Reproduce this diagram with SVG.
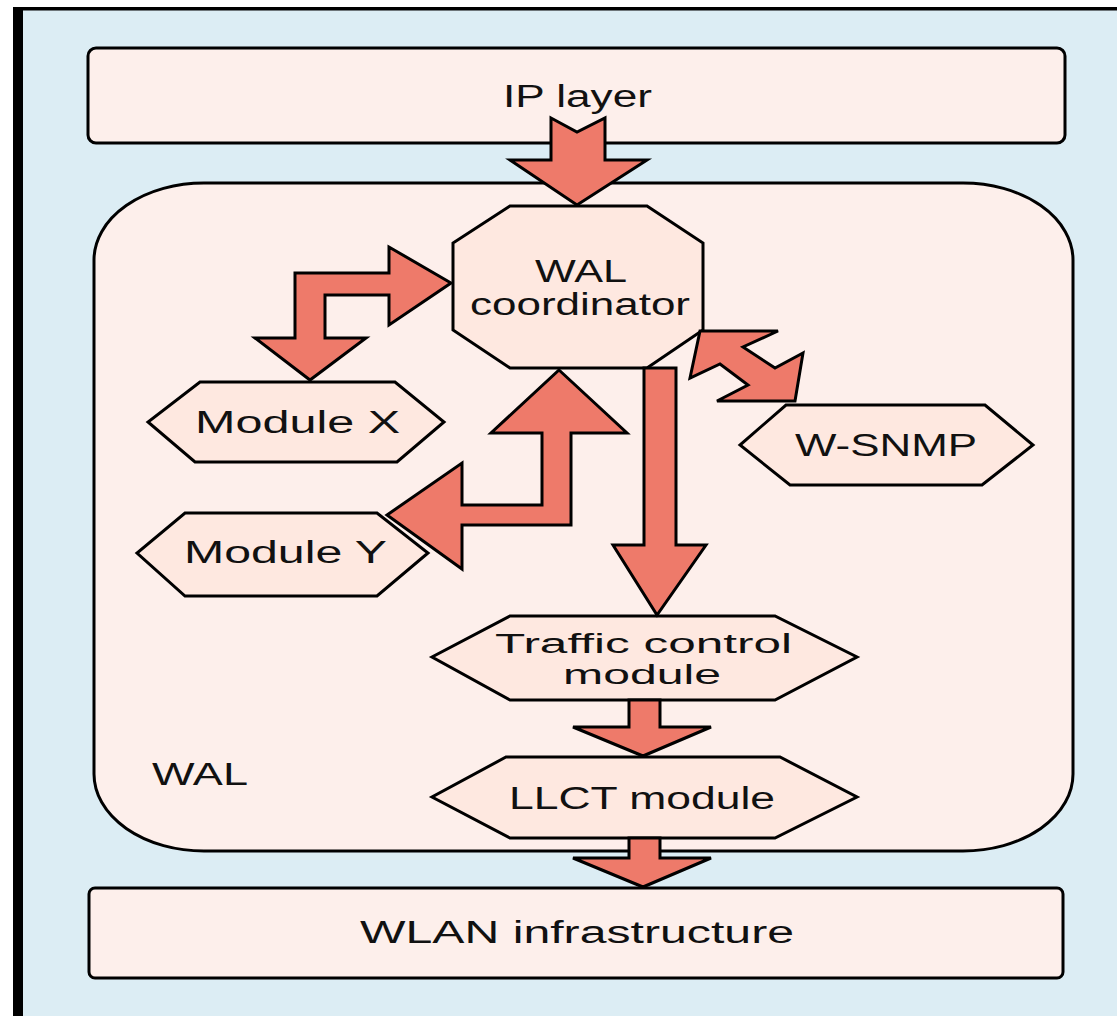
<svg xmlns="http://www.w3.org/2000/svg" width="1117" height="1016" viewBox="0 0 1117 1016">
  <style>
    .box { fill: #FDEFEB; stroke: #000; stroke-width: 3; }
    .mod { fill: #FEE8E0; stroke: #000; stroke-width: 3; stroke-linejoin: miter; }
    .arr { fill: #EE7A6A; stroke: #000; stroke-width: 3; stroke-linejoin: miter; }
    .t { font-family: "Liberation Sans", Arial, sans-serif; font-size: 31px; fill: #111; }
    .s { font-size: 27px; }
  </style>
  <rect x="0" y="0" width="1117" height="1016" fill="#FFFFFF"/>
  <rect x="13" y="7" width="1104" height="1009" fill="#DCEDF4"/>
  <rect x="13" y="7" width="1104" height="3.5" fill="#000"/>
  <rect x="13" y="7" width="10" height="1009" fill="#000"/>

  <g id="ip-layer">
    <rect class="box" x="88" y="48" width="977" height="95" rx="8" ry="8"/>
    <text class="t" x="503" y="107" textLength="149" lengthAdjust="spacingAndGlyphs">IP layer</text>
  </g>

  <g id="wal">
    <rect class="box" x="94" y="183" width="979" height="668" rx="110" ry="77"/>
    <text class="t" x="152" y="785" textLength="96" lengthAdjust="spacingAndGlyphs">WAL</text>
  </g>

  <g id="wlan-infrastructure">
    <rect class="box" x="89" y="888" width="974" height="90" rx="6" ry="6"/>
    <text class="t" x="360" y="943" textLength="434" lengthAdjust="spacingAndGlyphs">WLAN infrastructure</text>
  </g>

  <g id="wal-coordinator">
    <polygon class="mod" points="510,206 647,206 703,243 703,330 647,368 510,368 453,330 453,243"/>
    <text class="t" x="535" y="282" textLength="92" lengthAdjust="spacingAndGlyphs">WAL</text>
    <text class="t" x="470" y="315" textLength="220" lengthAdjust="spacingAndGlyphs">coordinator</text>
  </g>

  <g id="module-x">
    <polygon class="mod" points="200,382 395,382 444,422 397,462 195,462 148,422"/>
    <text class="t" x="195" y="433" textLength="205" lengthAdjust="spacingAndGlyphs">Module X</text>
  </g>

  <g id="module-y">
    <polygon class="mod" points="185,513 377,513 428,553 377,596 185,596 137,553"/>
    <text class="t" x="184" y="563" textLength="203" lengthAdjust="spacingAndGlyphs">Module Y</text>
  </g>

  <g id="w-snmp">
    <polygon class="mod" points="786,405 985,405 1033,445 982,485 790,485 740,445"/>
    <text class="t" x="795" y="456" textLength="182" lengthAdjust="spacingAndGlyphs">W-SNMP</text>
  </g>

  <g id="traffic-control-module">
    <polygon class="mod" points="510,616 775,616 857,657 775,700 510,700 432,657"/>
    <text class="t s" x="495" y="653" textLength="297" lengthAdjust="spacingAndGlyphs">Traffic control</text>
    <text class="t s" x="563" y="684" textLength="158" lengthAdjust="spacingAndGlyphs">module</text>
  </g>

  <g id="llct-module">
    <polygon class="mod" points="506,757 780,757 857,797 775,838 510,838 432,797"/>
    <text class="t" x="509" y="809" textLength="266" lengthAdjust="spacingAndGlyphs">LLCT module</text>
  </g>

  <g id="connectors">
    <polygon class="arr" points="551,118 577,132 605,118 605,160 647,160 577,205 510,160 551,160"/>
    <polygon class="arr" points="451,283 389,247 389,273 295,273 295,338 255,338 310,380 366,338 325,338 325,295 389,295 389,325"/>
    <polygon class="arr" points="559,370 627,433 571,433 571,525 462,525 462,569 387,515 462,463 462,505 542,505 542,433 491,433"/>
    <polygon class="arr" points="700,331 778,331 743,347 775,368 803,353 795,401 717,401 748,385 720,364 690,378"/>
    <polygon class="arr" points="644,368 676,368 676,545 706,545 657,615 613,545 644,545"/>
    <polygon class="arr" points="629,700 660,700 660,727 711,727 643,756 573,727 629,727"/>
    <polygon class="arr" points="629,838 660,838 660,858 711,858 643,887 573,858 629,858"/>
  </g>
</svg>
